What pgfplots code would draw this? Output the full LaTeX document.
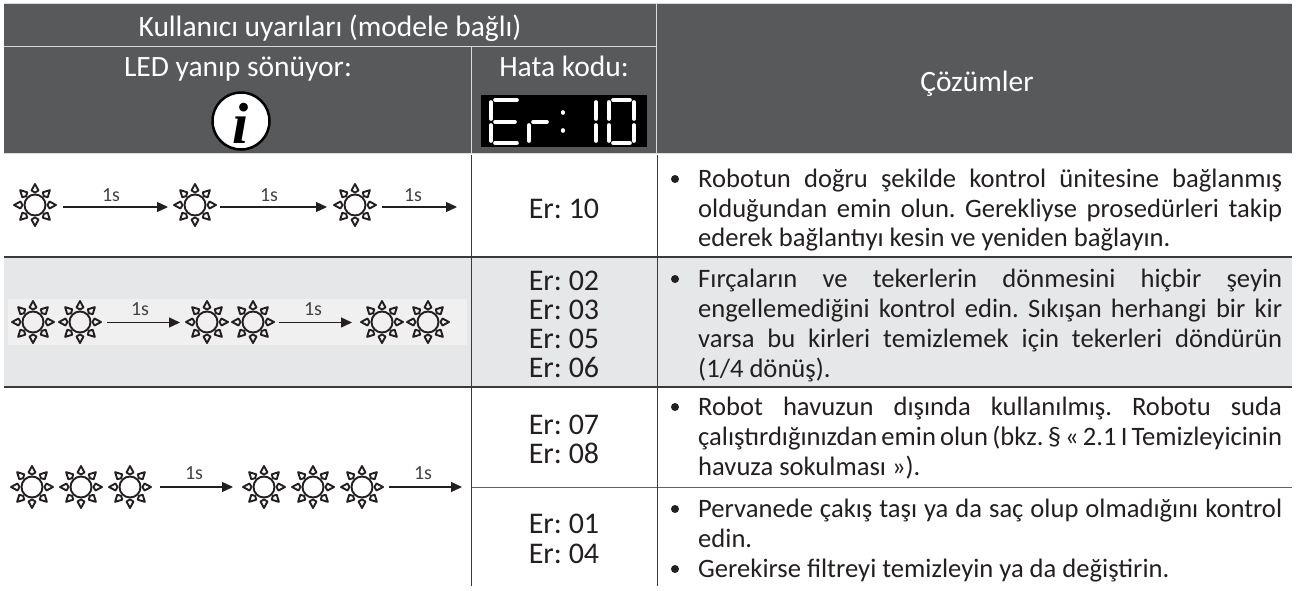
\documentclass[border=0pt]{standalone}
\usepackage{pgfplots}
\pgfplotsset{compat=1.18}
\usepackage{fontspec}
\setmainfont{Carlito}
\newfontfamily\onesfont{Carlito}
\newfontfamily\ifont{Liberation Serif}
\usetikzlibrary{arrows.meta}
\frenchspacing
\definecolor{hdr}{HTML}{58595B}
\definecolor{hline}{HTML}{D8D9DA}
\definecolor{grow}{HTML}{E6E7E8}
\definecolor{gband}{HTML}{F0F0F1}
\definecolor{rule}{HTML}{3A3A3C}
\definecolor{txt}{HTML}{231F20}
\pgfdeclareplotmark{sun}{%
  \pgfsetlinewidth{1.9pt}%
  \pgfsetroundjoin
  \pgfpathcircle{\pgfpointorigin}{10.5pt}%
  \pgfusepathqstroke
  \foreach \a in {0,45,...,315}{%
    \begin{pgfscope}%
    \pgftransformrotate{\a}%
    \pgfpathmoveto{\pgfqpoint{12.5pt}{0pt}}%
    \pgfpathlineto{\pgfqpoint{14.5pt}{3.5pt}}%
    \pgfpathlineto{\pgfqpoint{21pt}{0pt}}%
    \pgfpathlineto{\pgfqpoint{14.5pt}{-3.5pt}}%
    \pgfpathclose
    \pgfusepathqstroke
    \end{pgfscope}%
  }%
}
\newcommand\rect[5]{\addplot[fill=#5,draw=none,forget plot] coordinates {(#1,#2)(#3,#2)(#3,#4)(#1,#4)} -- cycle;}
\newcommand\seg[5]{\addplot[#5,forget plot] coordinates {(#1,#2)(#3,#4)};}
\newcommand\arr[3]{\addplot[txt,line width=1.3pt,-{Triangle[length=11pt,width=10pt]},forget plot] coordinates {(#1,#3)(#2,#3)};}
\newcommand\one[2]{\node[anchor=base,text=txt!85,font=\onesfont\fontsize{20}{22}\selectfont] at (axis cs:#1,#2) {1s};}
\newcommand\ctext[4][white]{\node[anchor=base,text=#1,inner sep=0pt,font=\fontsize{#2}{#2}\selectfont] at (axis cs:#3) {#4};}
\newcommand\er[2]{\node[anchor=base,text=txt,inner sep=0pt,font=\fontsize{30}{30}\selectfont] at (axis cs:564,#1) {Er: #2};}
\newcommand\jline[2]{\node[anchor=base west,text=txt,inner sep=0pt,font=\fontsize{26.6}{28}\selectfont] at (axis cs:698,#1) {\makebox[584pt][s]{#2}};}
\newcommand\nline[2]{\node[anchor=base west,text=txt,inner sep=0pt,font=\fontsize{26.6}{28}\selectfont] at (axis cs:698,#1) {#2};}
\newcommand\bull[1]{\node[circle,fill=txt,inner sep=0pt,minimum size=8pt] at (axis cs:675,#1) {};}
\newcommand\dseg[4]{\addplot[white,line width=3.6pt,line cap=round,forget plot] coordinates {(#1,#2)(#3,#4)};}
\begin{document}
\begin{tikzpicture}
\begin{axis}[scale only axis,width=1299pt,height=590pt,xmin=0,xmax=1299,ymin=0,ymax=590,y dir=reverse,hide axis,clip=false]
% page
\rect{0}{0}{1299}{590}{white}
% header
\rect{4}{3}{1292}{153}{hdr}
\seg{4}{46}{656}{46}{hline,line width=1pt}
\seg{471}{46}{471}{153}{hline,line width=1pt}
\seg{656}{3}{656}{153}{hline,line width=1pt}
\seg{4}{3.5}{1292}{3.5}{hline,line width=1pt}
\seg{4}{153}{1292}{153}{hline,line width=1pt}
\ctext{29.5}{330,36}{Kullanıcı uyarıları (modele bağlı)}
\ctext{29.5}{238,76}{LED yanıp sönüyor:}
\ctext{29.5}{564,76}{Hata kodu:}
\ctext{29.5}{977,91}{Çözümler}
% info icon
\node[circle,fill=white,draw=black,line width=2.5pt,minimum size=57pt,inner sep=0pt] at (axis cs:241,121) {};
\node[anchor=base,text=black,inner sep=0pt,font=\ifont\bfseries\itshape\fontsize{58}{60}\selectfont] at (axis cs:241,143) {i};
% LED display
\rect{481}{95}{647}{147}{black}
% E
\dseg{491}{102}{491}{119}\dseg{491}{125}{491}{141}\dseg{495}{100}{517}{100}\dseg{495}{122}{515}{122}\dseg{495}{143}{517}{143}
% r
\dseg{529}{125}{529}{141}\dseg{533}{122}{547}{122}
% colon
\dseg{563}{112}{563}{113}\dseg{563}{130}{563}{131}
% 1
\dseg{596}{102}{596}{119}\dseg{596}{125}{596}{141}
% 0
\dseg{609}{102}{609}{119}\dseg{609}{125}{609}{141}\dseg{634}{102}{634}{119}\dseg{634}{125}{634}{141}\dseg{613}{100}{630}{100}\dseg{613}{143}{630}{143}
% grey row
\rect{4}{257}{1292}{387}{grow}
\rect{8}{299}{467}{345}{gband}
% rules
\seg{4}{257}{1292}{257}{rule,line width=1.2pt}
\seg{4}{387}{1292}{387}{rule,line width=1.2pt}
\seg{471}{487}{1292}{487}{rule!80,line width=1pt}
\seg{471}{155}{471}{586}{rule,line width=1pt}
\seg{657}{155}{657}{586}{rule,line width=1pt}
% suns
\addplot[only marks,mark=sun,mark options={draw=txt},forget plot] coordinates {
(35,205)(195,205)(355,205)
(33,322)(80,322)(207,322)(253,322)(382,322)(428,322)
(32,487)(81,487)(130,487)(264,487)(313,487)(362,487)};
\arr{63}{168}{207}\arr{220}{327}{207}\arr{382}{457}{207}
\arr{107}{180}{322.5}\arr{279}{352}{322.5}
\arr{160}{233}{487}\arr{389}{462}{487}
\one{111}{201}\one{269}{201}\one{413}{201}
\one{140}{315}\one{313}{315}
\one{194}{479}\one{423}{479}
% codes
\er{218}{10}
\er{290}{02}\er{319}{03}\er{348}{05}\er{377}{06}
\er{434}{07}\er{463}{08}
\er{533}{01}\er{563}{04}
% solutions
\bull{179}
\jline{187}{Robotun doğru şekilde kontrol ünitesine bağlanmış}
\jline{217}{olduğundan emin olun. Gerekliyse prosedürleri takip}
\nline{246}{ederek bağlantıyı kesin ve yeniden bağlayın.}
\bull{279}
\jline{287}{Fırçaların ve tekerlerin dönmesini hiçbir şeyin}
\jline{317}{engellemediğini kontrol edin. Sıkışan herhangi bir kir}
\jline{347}{varsa bu kirleri temizlemek için tekerleri döndürün}
\nline{377}{(1/4 dönüş).}
\bull{407}
\jline{415}{Robot havuzun dışında kullanılmış. Robotu suda}
\jline{445}{çalıştırdığınızdan emin olun (bkz. § « 2.1 I Temizleyicinin}
\nline{475}{havuza sokulması »).}
\bull{509}
\jline{517}{Pervanede çakış taşı ya da saç olup olmadığını kontrol}
\nline{547}{edin.}
\bull{569}
\nline{577}{Gerekirse filtreyi temizleyin ya da değiştirin.}
\end{axis}
\end{tikzpicture}
\end{document}
